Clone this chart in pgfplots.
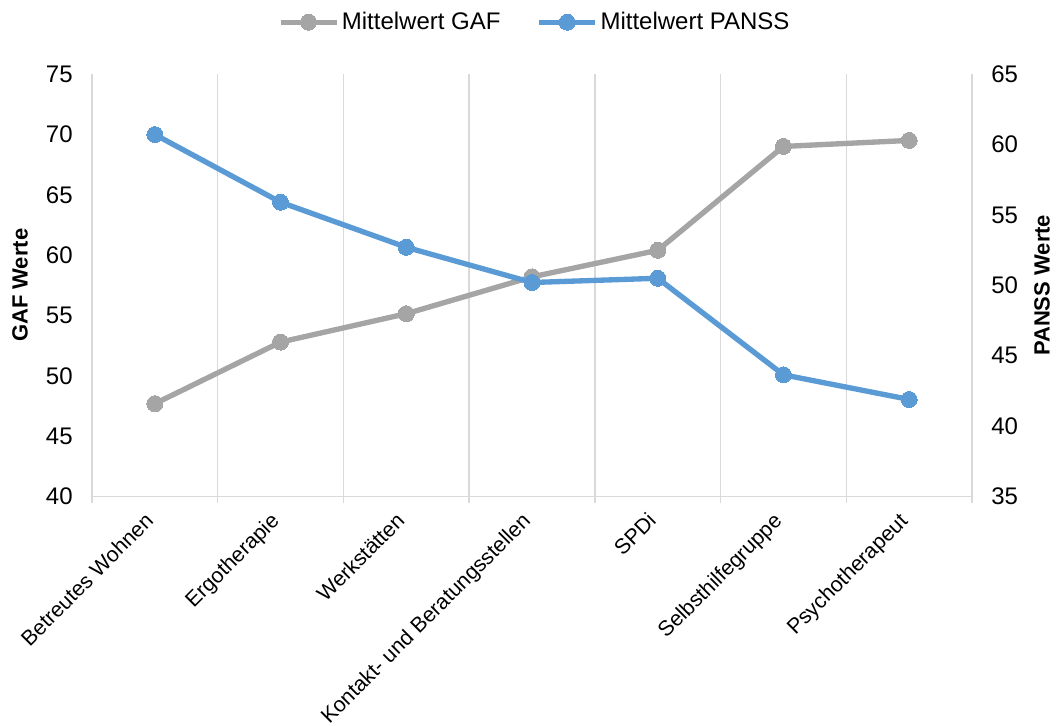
\documentclass[border=0pt]{standalone}
\usepackage{fontspec}
\setmainfont{Liberation Sans}
\usepackage{pgfplots}
\pgfplotsset{compat=1.18}
\usetikzlibrary{calc}
\definecolor{gafgray}{HTML}{A5A5A5}
\definecolor{pansblue}{HTML}{5B9BD5}
\definecolor{gridgray}{HTML}{D9D9D9}
\begin{document}
\begin{tikzpicture}
\pgfplotsset{
  base/.style={
    width=660pt, height=317pt, scale only axis,
    xmin=-0.5, xmax=6.5,
    font=\fontsize{16.5}{19}\selectfont,
    /pgf/number format/assume math mode=true,
    yticklabel style={font=\fontsize{18}{21}\selectfont},
    xticklabel style={font=\fontsize{16}{19}\selectfont},
  },
}
\begin{axis}[base, name=ax,
  ymin=40, ymax=75, ytick={40,45,...,75},
  axis x line*=bottom, axis y line*=left,
  x axis line style={draw=gridgray, line width=1.1pt, -},
  y axis line style={draw=none},
  xtick={0,...,6},
  xticklabels={Betreutes Wohnen, Ergotherapie, Werkstätten, Kontakt- und Beratungsstellen, SPDi, Selbsthilfegruppe, Psychotherapeut},
  minor xtick={-0.5,0.5,...,6.5},
  xminorgrids,
  minor x grid style={gridgray, line width=1.1pt},
  every minor tick/.append style={gridgray, line width=1.1pt},
  major tick length=0pt, minor tick length=5pt, tick align=outside,
  xticklabel style={xshift=-8.5pt, yshift=-8pt, rotate=45, anchor=north east, inner sep=2pt},
  yticklabel style={xshift=-11pt},
  ylabel={\bfseries GAF Werte},
  ylabel style={at={(axis description cs:-0.0818,0.5)}, anchor=center, rotate=0},
]
\addplot[gafgray, line width=4pt, mark=*, mark size=6pt, mark options={fill=gafgray, draw=gafgray, line width=0pt}]
  coordinates {(0,47.7) (1,52.8) (2,55.15) (3,58.2) (4,60.4) (5,69.0) (6,69.5)};
\end{axis}
\begin{axis}[base,
  ymin=35, ymax=65, ytick={35,40,...,65},
  axis y line*=right, axis x line=none,
  y axis line style={draw=none},
  major tick length=0pt,
  yticklabel style={xshift=11pt},
  ylabel={\bfseries PANSS Werte},
  ylabel style={at={(axis description cs:1.0795,0.5)}, anchor=center, rotate=0},
  legend columns=2,
  legend style={at={(axis description cs:0.5034,1.1226)}, anchor=center, draw=none, fill=none,
    font=\fontsize{18}{21}\selectfont,
    /tikz/every even column/.append style={column sep=25pt},
    /tikz/every odd column/.append style={column sep=0pt}},
  legend cell align=left,
  legend image code/.code={\draw[#1, mark repeat=2, mark phase=2] plot coordinates {(0pt,0pt) (21pt,0pt) (42pt,0pt)};},
]
\addlegendimage{gafgray, line width=4pt, mark=*, mark size=6pt, mark options={fill=gafgray, draw=gafgray, line width=0pt}}
\addlegendentry{Mittelwert GAF}
\addplot[pansblue, line width=4pt, mark=*, mark size=6pt, mark options={fill=pansblue, draw=pansblue, line width=0pt}]
  coordinates {(0,60.7) (1,55.9) (2,52.7) (3,50.2) (4,50.5) (5,43.65) (6,41.9)};
\addlegendentry{Mittelwert PANSS}
\end{axis}
\pgfresetboundingbox
\path[use as bounding box] ($(ax.south west)+(-69pt,-171.75pt)$) rectangle ($(ax.north east)+(63pt,55.5pt)$);
\end{tikzpicture}
\end{document}
